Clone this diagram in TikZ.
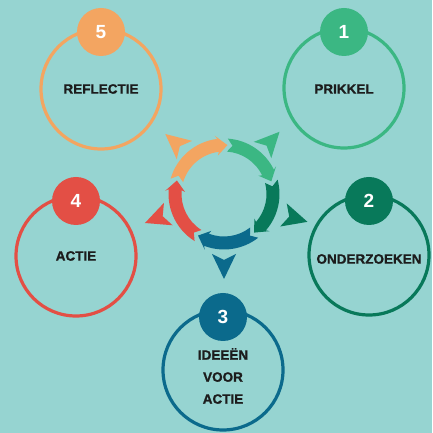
\documentclass[tikz,border=0pt]{standalone}
\usepackage{fontspec}
\setmainfont{Liberation Sans}
\newfontfamily\heavyfont[FakeBold=1.2]{Liberation Sans}
\definecolor{bgc}{HTML}{96D4D1}
\definecolor{corange}{HTML}{F3A561}
\definecolor{cgreen}{HTML}{3BB783}
\definecolor{cdkgreen}{HTML}{08795A}
\definecolor{cblue}{HTML}{0B6A8C}
\definecolor{cred}{HTML}{E34F45}
\definecolor{ctxt}{HTML}{1C1C1C}
\tikzset{
  ringnode/.style={circle, draw=#1, line width=3.2pt, minimum size=120pt, inner sep=0pt},
  badge/.style={circle, fill=#1, minimum size=48pt, inner sep=0pt, text=white,
    font=\fontsize{19}{19}\selectfont\bfseries},
  lbl/.style={font=\heavyfont\fontsize{13.5}{22}\selectfont\bfseries, text=ctxt, align=center, inner sep=0pt},
}
\newcommand\ringarrow[3]{% colour, tail angle, tip angle
  \fill[#1] (#2:55.5) arc[start angle=#2, end angle={#3+11}, radius=55.5]
    -- ({#3+13}:59) -- (#3:49) -- ({#3+13}:39) -- ({#3+11}:42.5)
    arc[start angle={#3+11}, end angle=#2, radius=42.5] -- ({#2-6}:49) -- cycle;
}
\newcommand\pointer[4]{% colour, x, y, angle
  \fill[#1, shift={(#2,#3)}, rotate=#4] (14,0) -- (-11,12) -- (-5,0) -- (-11,-12) -- cycle;
}
\begin{document}
\begin{tikzpicture}[x=1pt,y=1pt]
\useasboundingbox (0,0) rectangle (432,433);
\fill[bgc] (0,0) rectangle (432,433);

% big circles
\node[ringnode=cgreen]   (c1) at (344,345) {};
\node[ringnode=cdkgreen] (c2) at (369,178) {};
\node[ringnode=cblue]    (c3) at (223,63)  {};
\node[ringnode=cred]     (c4) at (76,177)  {};
\node[ringnode=corange]  (c5) at (101,344) {};

% badges
\node[badge=cgreen]   (b1) at (344,401) {1};
\node[badge=cdkgreen] (b2) at (369,232) {2};
\node[badge=cblue]    (b3) at (223,116) {3};
\node[badge=cred]     (b4) at (76,232)  {4};
\node[badge=corange]  (b5) at (101,401) {5};

% labels
\node[lbl] (t1) at (344,344) {PRIKKEL};
\node[lbl] (t2) at (369,174) {ONDERZOEKEN};
\node[lbl] (t3) at (223,57)  {IDEEËN\\VOOR\\ACTIE};
\node[lbl] (t4) at (76,177)  {ACTIE};
\node[lbl] (t5) at (101,344) {REFLECTIE};

% central cycle
\begin{scope}[shift={(224,239)}]
  \ringarrow{corange}{164}{86}
  \ringarrow{cgreen}{86}{15}
  \ringarrow{cdkgreen}{15}{-52}
  \ringarrow{cblue}{-52}{-122}
  \ringarrow{cred}{-122}{-196}
\end{scope}

% outward pointers
\pointer{corange}{176}{290}{140}
\pointer{cgreen}{270}{291}{47}
\pointer{cdkgreen}{294}{215}{-16}
\pointer{cblue}{224}{168}{-90}
\pointer{cred}{158}{215}{201}
\end{tikzpicture}
\end{document}
